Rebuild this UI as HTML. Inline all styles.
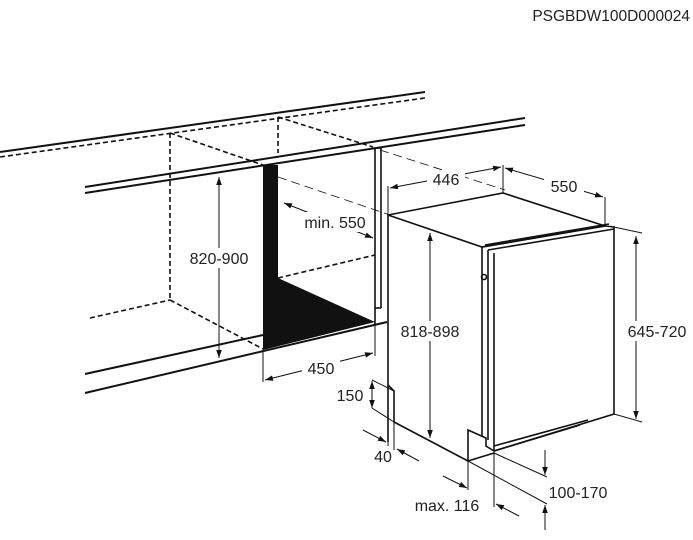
<!DOCTYPE html>
<html><head><style>
html,body{margin:0;padding:0;background:#fff;}
svg{display:block;}
text{font-family:"Liberation Sans",sans-serif;fill:#222;}
</style></head><body>
<svg width="693" height="540" viewBox="0 0 693 540" xmlns="http://www.w3.org/2000/svg">
<defs>
<marker id="a" viewBox="0 0 10 10" refX="10" refY="5" markerWidth="8" markerHeight="8" orient="auto-start-reverse" markerUnits="userSpaceOnUse"><path d="M0,1.5 L10,5 L0,8.5 z" fill="#111"/></marker>
</defs>
<text x="690" y="21" font-size="15.5" text-anchor="end">PSGBDW100D000024</text>
<g stroke="#111" fill="none" stroke-width="2">
<line x1="0" y1="152" x2="425" y2="92"/>
<line x1="85" y1="187" x2="525" y2="118"/>
<line x1="85" y1="193" x2="525" y2="125"/>
<line x1="85" y1="374" x2="263" y2="335"/>
<line x1="85" y1="393" x2="387" y2="322"/>
</g>
<g stroke="#111" fill="none" stroke-width="1.6" stroke-dasharray="5,3">
<line x1="0" y1="157" x2="425" y2="98"/>
<line x1="170" y1="133" x2="170" y2="300"/>
<line x1="170" y1="133" x2="263" y2="165"/>
<line x1="278" y1="117" x2="278" y2="153"/>
<line x1="278" y1="117" x2="373" y2="147"/>
<line x1="90" y1="318" x2="170" y2="300"/>
<line x1="170" y1="300" x2="263" y2="349"/>
<line x1="278" y1="278" x2="375" y2="255"/>
</g>
<g stroke="#111" fill="none" stroke-width="0.8" stroke-dasharray="9,5">
<line x1="278" y1="177" x2="390" y2="215"/>
<line x1="380" y1="150" x2="505" y2="190"/>
</g>
<polygon points="263,165 278,165 278,278 375,322 263,350" fill="#111"/>
<g stroke="#111" fill="none" stroke-width="1.6">
<line x1="375" y1="148" x2="375" y2="325"/>
<line x1="381" y1="148" x2="381" y2="308"/>
<line x1="375" y1="148" x2="381" y2="148"/>
<line x1="375" y1="308" x2="381" y2="308"/>
<polyline points="388,442 388,215 503,193 605,226 482,247 388,215"/>
<polyline points="482,247 605,226 614,227 614,414 494,451"/>
<line x1="482" y1="247" x2="482" y2="437"/>
<line x1="488" y1="250" x2="488" y2="440"/>
<line x1="494" y1="253" x2="494" y2="451"/>
<line x1="485" y1="245" x2="609" y2="224"/>
<line x1="488" y1="250" x2="614" y2="229"/>
<line x1="494" y1="446" x2="588" y2="420"/>
<line x1="494" y1="451" x2="580" y2="425"/>
<polyline points="388,385 394,391 394,422 468,461 468,430 486,438 486,446 494,451"/>
<line x1="468" y1="461" x2="494" y2="453"/>
<circle cx="484" cy="277" r="2.5"/>
</g>
<g stroke="#111" fill="none" stroke-width="1">
<line x1="219" y1="177" x2="219" y2="358" marker-start="url(#a)" marker-end="url(#a)"/>
<line x1="284" y1="203" x2="373" y2="238" marker-start="url(#a)" marker-end="url(#a)"/>
<line x1="263" y1="350" x2="263" y2="382"/>
<line x1="375" y1="325" x2="375" y2="356"/>
<line x1="265" y1="380" x2="373" y2="353" marker-start="url(#a)" marker-end="url(#a)"/>
<line x1="430" y1="233" x2="430" y2="438" marker-start="url(#a)" marker-end="url(#a)"/>
<line x1="614" y1="227" x2="642" y2="233"/>
<line x1="614" y1="414" x2="642" y2="422"/>
<line x1="636" y1="236" x2="636" y2="419" marker-start="url(#a)" marker-end="url(#a)"/>
<line x1="388" y1="215" x2="388" y2="186"/>
<line x1="503" y1="193" x2="503" y2="165"/>
<line x1="605" y1="226" x2="605" y2="197"/>
<line x1="390" y1="188" x2="501" y2="167" marker-start="url(#a)" marker-end="url(#a)"/>
<line x1="505" y1="168" x2="603" y2="197" marker-start="url(#a)" marker-end="url(#a)"/>
<line x1="372" y1="380" x2="394" y2="391"/>
<line x1="372" y1="408" x2="394" y2="422"/>
<line x1="372" y1="381" x2="372" y2="408" marker-start="url(#a)" marker-end="url(#a)"/>
<line x1="388" y1="442" x2="388" y2="446"/>
<line x1="394" y1="422" x2="394" y2="450"/>
<line x1="363" y1="430" x2="386" y2="442" marker-end="url(#a)"/>
<line x1="419" y1="461" x2="397" y2="449" marker-end="url(#a)"/>
<line x1="468" y1="461" x2="468" y2="490"/>
<line x1="494" y1="451" x2="494" y2="507"/>
<line x1="443" y1="476" x2="467" y2="488" marker-end="url(#a)"/>
<line x1="519" y1="516" x2="496" y2="504" marker-end="url(#a)"/>
<line x1="494" y1="453" x2="547" y2="477"/>
<line x1="468" y1="461" x2="547" y2="504"/>
<line x1="545" y1="450" x2="545" y2="475" marker-end="url(#a)"/>
<line x1="545" y1="530" x2="545" y2="505" marker-end="url(#a)"/>
</g>
<g font-size="16">
<rect x="183" y="248" width="72" height="20" fill="#fff"/>
<text x="219" y="264" text-anchor="middle">820-900</text>
<rect x="298" y="212" width="74" height="20" fill="#fff"/>
<text x="335" y="228" text-anchor="middle">min. 550</text>
<rect x="302" y="358" width="38" height="20" fill="#fff"/>
<text x="321" y="374" text-anchor="middle">450</text>
<rect x="394" y="321" width="72" height="20" fill="#fff"/>
<text x="430" y="337" text-anchor="middle">818-898</text>
<rect x="620" y="321" width="73" height="20" fill="#fff"/>
<text x="657" y="337" text-anchor="middle">645-720</text>
<rect x="427" y="170" width="38" height="20" fill="#fff"/>
<text x="446" y="185" text-anchor="middle">446</text>
<rect x="544" y="177" width="40" height="20" fill="#fff"/>
<text x="564" y="192" text-anchor="middle">550</text>
<text x="350" y="401" text-anchor="middle">150</text>
<text x="383" y="462" text-anchor="middle">40</text>
<text x="447" y="511" text-anchor="middle">max. 116</text>
<text x="578" y="498" text-anchor="middle">100-170</text>
</g>
</svg>
</body></html>
